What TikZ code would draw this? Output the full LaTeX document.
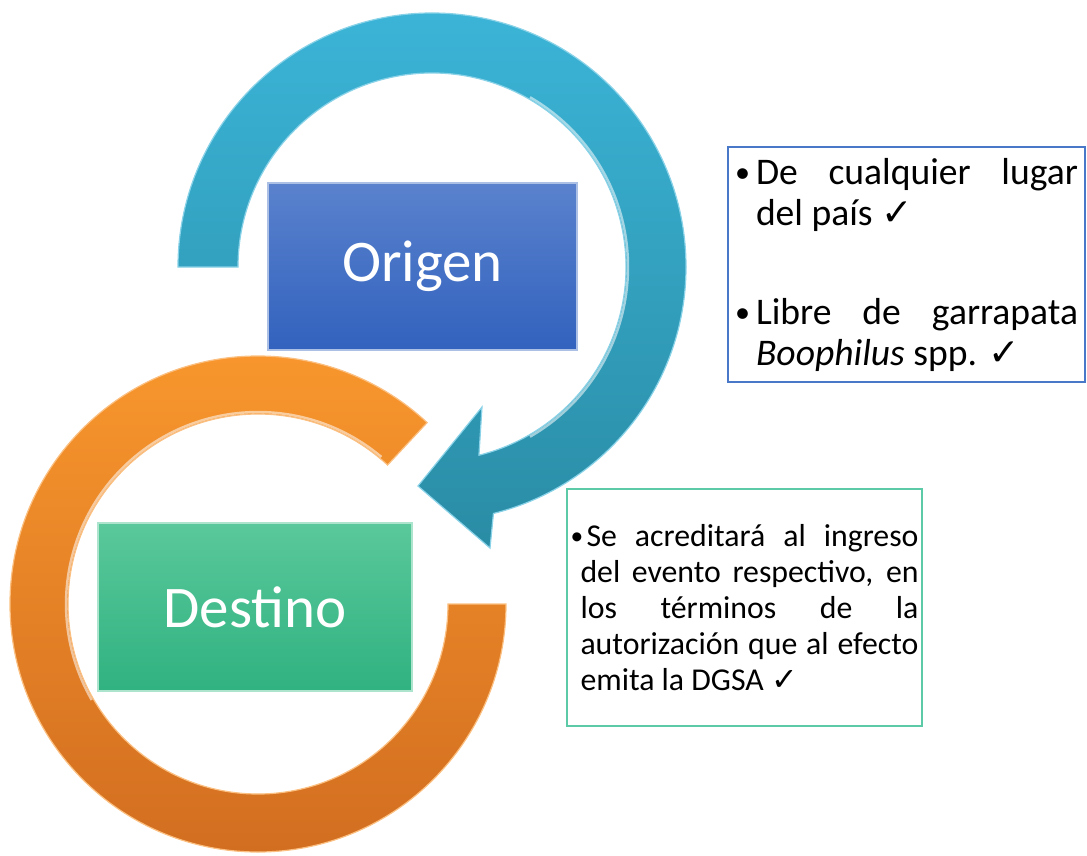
\documentclass[tikz,border=0pt]{standalone}
\usepackage{fontspec}
\setmainfont{Carlito}
\newfontfamily\simbolo{DejaVu Sans}
\newcommand{\spunta}{{\simbolo ✓}}
\newcommand{\puntino}{\raisebox{0.1ex}{\scalebox{0.8}{\textbullet}}}
\usetikzlibrary{calc}

\definecolor{bluSu}{HTML}{3BB4D7}
\definecolor{bluGiu}{HTML}{2A8CA5}
\definecolor{aranSu}{HTML}{F8962D}
\definecolor{aranGiu}{HTML}{D26E20}
\definecolor{origSu}{HTML}{5A82CD}
\definecolor{origGiu}{HTML}{3262BE}
\definecolor{destSu}{HTML}{5AC89B}
\definecolor{destGiu}{HTML}{30B280}
\definecolor{bordoBlu}{HTML}{4A78C8}
\definecolor{bordoVerde}{HTML}{5CC9A7}

\tikzset{
  etichetta/.style={text=white, inner sep=0pt, line width=1pt,
    font=\fontsize{29.5pt}{35pt}\selectfont},
  riquadro/.style={fill=white, line width=1pt, inner sep=0pt, align=justify},
  lucido/.style={line width=1.2pt, white, opacity=0.55}
}

\begin{document}
\begin{tikzpicture}[x=0.5pt,y=-0.5pt]
    \useasboundingbox (0,0) rectangle (1087,856);
    \coordinate (centroA) at (258,604);
    \coordinate (centroB) at (432,267);

    % Disegna l'anello arancione
    \shadedraw[top color=aranSu, bottom color=aranGiu, draw=aranSu!60!white, line width=0.6pt]
        ($(centroA)+(0:248)$) arc[start angle=0,end angle=313,radius=248]
        -- ($(centroA)+(313:190)$) arc[start angle=313,end angle=0,radius=190] -- cycle;
    \draw[lucido] ($(centroA)+(310:192)$) arc[start angle=310,end angle=150,radius=192]; % riflesso

    % Disegna la freccia blu
    \shadedraw[top color=bluSu, bottom color=bluGiu, draw=bluSu!60!white, line width=0.6pt]
        ($(centroB)+(180:254)$) arc[start angle=180,end angle=436,radius=254]
        -- (490,548) -- (418,486) -- (482,407)
        -- ($(centroB)+(76:194)$) arc[start angle=436,end angle=180,radius=194] -- cycle;
    \draw[lucido] ($(centroB)+(60:196)$) arc[start angle=60,end angle=-60,radius=196]; % riflesso

    % Riquadri colorati
    \node[etichetta, top color=origSu, bottom color=origGiu, draw=origSu!50!white,
        minimum width=154.5pt, minimum height=83.5pt] (origen) at (422.5,266.5) {Origen};
    \node[etichetta, top color=destSu, bottom color=destGiu, draw=destSu!50!white,
        minimum width=157pt, minimum height=84pt] (destino) at (255,607) {Destino};

    % Note a destra
    \node[riquadro, draw=bordoBlu, text width=171.5pt, minimum width=178.5pt,
        minimum height=117.5pt, font=\fontsize{18.8pt}{20.5pt}\selectfont] (notaOrigen) at (906.5,264.5)
        {\hangindent=10.5pt\hangafter=1\noindent\makebox[10.5pt][l]{\puntino}De cualquier lugar\linebreak del país \spunta\par
        \vspace{29pt}
        \hangindent=10.5pt\hangafter=1\noindent\makebox[10.5pt][l]{\puntino}Libre de garrapata\linebreak \textit{Boophilus} spp. \spunta\par};
    \node[riquadro, draw=bordoVerde, text width=174pt, minimum width=177.5pt,
        minimum height=118.5pt, font=\fontsize{15.9pt}{18pt}\selectfont] (notaDestino) at (744.5,607.5)
        {\hangindent=5pt\hangafter=1\noindent\makebox[8pt][l]{\puntino}Se acreditará al ingreso\linebreak del evento respectivo, en\linebreak los términos de la\linebreak autorización que al efecto\linebreak emita la DGSA \spunta\par};
\end{tikzpicture}
\end{document}
